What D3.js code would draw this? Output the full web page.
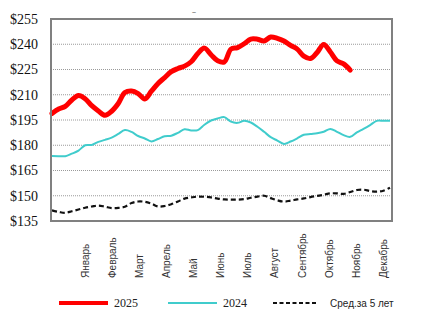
<!DOCTYPE html>
<html>
<head>
<meta charset="utf-8">
<script src="https://cdn.jsdelivr.net/npm/d3@7"></script>
<style>
  body { margin: 0; background: #fff; }
  svg { display: block; }
</style>
</head>
<body>
<div id="chart"></div>
<script>
// weekly prices, week 1 .. 52
var price2025 = [198.9, 201.5, 203.1, 206.9, 209.5, 207.6, 203.5, 200.4, 197.8, 200.2,
  204.8, 211.3, 212.2, 210.7, 207.5, 212.1, 216.7, 220.2, 223.7, 225.6,
  227.0, 229.6, 234.5, 237.7, 233.8, 230.2, 229.5, 237.1, 238.0, 240.3,
  243.1, 243.0, 241.9, 244.3, 243.5, 241.9, 239.3, 237.1, 232.9, 231.5,
  235.1, 239.9, 235.4, 230.1, 228.3, 224.6];
var price2024 = [173.6, 173.5, 173.5, 175.0, 176.8, 180.0, 180.2, 182.0, 183.2, 184.5,
  186.7, 189.0, 187.9, 185.5, 184.0, 182.3, 183.7, 185.4, 185.7, 187.4,
  189.5, 188.8, 189.0, 192.2, 194.7, 195.9, 196.7, 194.0, 193.3, 194.5,
  193.5, 191.0, 188.0, 184.8, 182.8, 180.8, 182.2, 184.1, 186.2, 186.7,
  187.1, 188.0, 189.7, 188.0, 186.0, 185.0, 187.6, 189.7, 192.0, 194.5,
  194.5, 194.5];
var avg5y = [141.3, 140.4, 139.8, 140.8, 141.8, 142.9, 143.6, 144.2, 143.5, 142.7,
  142.8, 143.5, 145.7, 146.6, 146.4, 145.3, 143.6, 143.9, 145.0, 146.6,
  148.3, 149.0, 149.5, 149.4, 149.0, 148.3, 147.8, 147.7, 147.7, 148.0,
  148.8, 149.5, 150.0, 148.6, 147.3, 146.5, 147.1, 147.8, 148.4, 149.2,
  149.9, 150.6, 151.4, 151.4, 151.1, 152.2, 153.4, 153.6, 152.8, 152.4,
  153.0, 154.8];
var months = ["Январь", "Февраль", "Март", "Апрель", "Май", "Июнь",
  "Июль", "Август", "Сентябрь", "Октябрь", "Ноябрь", "Декабрь"];
var yTicks = [135, 150, 165, 180, 195, 210, 225, 240, 255];

var width = 421, height = 333;
var box = {left: 51, right: 392, top: 19, bottom: 221};

var svg = d3.select("#chart").append("svg")
  .attr("width", width)
  .attr("height", height);

var x = d3.scaleLinear().domain([0, 51]).range([box.left + 1, box.right - 2]);
var y = d3.scaleLinear().domain([135, 255]).range([box.bottom, box.top]);
// month labels sit every ~4 weeks starting from week 6
var xm = d3.scalePoint().domain(months).range([x(5), x(50)]);

// dotted grid
svg.append("g").selectAll("line")
  .data(yTicks.slice(1, -1))
  .enter().append("line")
  .attr("x1", box.left).attr("x2", box.right)
  .attr("y1", d => y(d)).attr("y2", d => y(d))
  .style("stroke", "#9a9a9a")
  .style("stroke-width", 1)
  .style("stroke-dasharray", "1,1");

// y labels
svg.append("g").selectAll("text")
  .data(yTicks)
  .enter().append("text")
  .attr("x", 38)
  .attr("y", d => y(d))
  .attr("dy", "0.35em")
  .attr("text-anchor", "end")
  .style("font-family", "'Liberation Serif', 'Times New Roman', serif")
  .style("font-size", "14px")
  .style("fill", "#111")
  .text(d => "$" + d);

// month labels, rotated
svg.append("g").selectAll("text")
  .data(months)
  .enter().append("text")
  .attr("transform", d => "translate(" + xm(d) + ",278) rotate(-90)")
  .attr("dy", "0.35em")
  .attr("text-anchor", "start")
  .style("font-family", "'Liberation Sans', Arial, sans-serif")
  .style("font-size", "10px")
  .style("fill", "#333")
  .text(d => d);

var line = d3.line()
  .x((d, i) => x(i))
  .y(d => y(d))
  .curve(d3.curveCatmullRom.alpha(0.5));

svg.append("path").datum(avg5y)
  .attr("d", line)
  .style("fill", "none")
  .style("stroke", "#111")
  .style("stroke-width", 2.2)
  .style("stroke-dasharray", "5,3");

svg.append("path").datum(price2024)
  .attr("d", line)
  .style("fill", "none")
  .style("stroke", "#40cccc")
  .style("stroke-width", 2);

svg.append("path").datum(price2025)
  .attr("d", line)
  .style("fill", "none")
  .style("stroke", "#ff0000")
  .style("stroke-width", 5)
  .style("stroke-linecap", "round")
  .style("stroke-linejoin", "round");

// plot frame
svg.append("rect")
  .attr("x", box.left).attr("y", box.top)
  .attr("width", box.right - box.left)
  .attr("height", box.bottom - box.top)
  .style("fill", "none")
  .style("stroke", "#808080")
  .style("stroke-width", 2);

// stray title dash
svg.append("text")
  .attr("x", 194).attr("y", 20)
  .attr("text-anchor", "middle")
  .style("font-family", "'Liberation Sans', Arial, sans-serif")
  .style("font-size", "9px")
  .style("fill", "#555")
  .text("‾");

// legend
var legend = [
  {name: "2025", color: "#ff0000", w: 4, dash: null, x0: 59, font: "'Liberation Serif', serif", size: "12px"},
  {name: "2024", color: "#40cccc", w: 2, dash: null, x0: 168, font: "'Liberation Serif', serif", size: "12px"},
  {name: "Сред.за 5 лет", color: "#111", w: 2, dash: "4,2.5", x0: 273, font: "'Liberation Sans', Arial, sans-serif", size: "10px"}
];
var lg = svg.append("g").selectAll("g")
  .data(legend)
  .enter().append("g")
  .attr("transform", d => "translate(" + d.x0 + ",303)");
lg.append("line")
  .attr("x1", 0).attr("x2", (d, i) => i == 2 ? 44 : 49)
  .style("stroke", d => d.color)
  .style("stroke-width", d => d.w)
  .style("stroke-dasharray", d => d.dash);
lg.append("text")
  .attr("x", (d, i) => i == 2 ? 57 : 55)
  .attr("dy", "0.35em")
  .style("font-family", d => d.font)
  .style("font-size", d => d.size)
  .style("fill", "#222")
  .text(d => d.name);
</script>
</body>
</html>
